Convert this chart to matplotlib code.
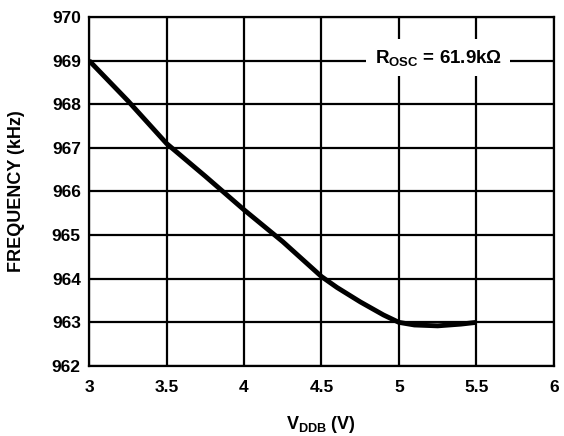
import matplotlib
matplotlib.use("Agg")
import matplotlib.pyplot as plt
import numpy as np

plt.rcParams['font.family'] = ['Liberation Sans', 'DejaVu Sans']
plt.rcParams['font.weight'] = 'bold'
plt.rcParams['mathtext.fontset'] = 'custom'
plt.rcParams['mathtext.rm'] = 'Liberation Sans:bold'
plt.rcParams['mathtext.it'] = 'Liberation Sans:bold'
plt.rcParams['mathtext.bf'] = 'Liberation Sans:bold'

vddb = [3.0, 3.25, 3.5, 3.75, 4.0, 4.25, 4.5, 4.6, 4.75, 4.9, 5.0, 5.1, 5.25, 5.4, 5.5]
freq = [969.0, 968.08, 967.1, 966.35, 965.58, 964.85, 964.05, 963.8, 963.47, 963.17, 963.0, 962.94, 962.92, 962.96, 963.0]
xticks = [3, 3.5, 4, 4.5, 5, 5.5, 6]
xtick_labels = ['3', '3.5', '4', '4.5', '5', '5.5', '6']
yticks = [962, 963, 964, 965, 966, 967, 968, 969, 970]

fig = plt.figure(figsize=(5.64, 4.36), dpi=100)
ax = fig.add_axes([0.158, 0.1606, 0.824, 0.8004])
ax.set_xlim(3, 6)
ax.set_ylim(962, 970)
ax.set_xticks(xticks)
ax.set_xticklabels(xtick_labels)
ax.set_yticks(yticks)
ax.tick_params(axis='y', length=0, labelsize=12.5, pad=6)
ax.tick_params(axis='x', length=0, labelsize=12.5, pad=10)
for lab in ax.get_xticklabels() + ax.get_yticklabels():
    lab.set_fontweight('bold')
ax.grid(True, color='black', linewidth=1.6)
for s in ax.spines.values():
    s.set_linewidth(1.6)
ax.set_axisbelow(True)

ax.plot(vddb, freq, color='black', linewidth=3.5, solid_capstyle='butt',
        solid_joinstyle='round', zorder=3)

ax.text(5.255, 969.07, r'R$_{\mathrm{OSC}}$ = 61.9k$\Omega$', ha='center', va='center',
        fontsize=13.5, fontweight='bold', zorder=4,
        bbox=dict(boxstyle='square,pad=0.45', facecolor='white', edgecolor='none'))

ax.set_xlabel(r'V$_{\mathrm{DDB}}$ (V)', fontsize=13, fontweight='bold', labelpad=14)
ax.set_ylabel('FREQUENCY (kHz)', fontsize=13, fontweight='bold', labelpad=19)

fig.savefig('out.png', dpi=100)
